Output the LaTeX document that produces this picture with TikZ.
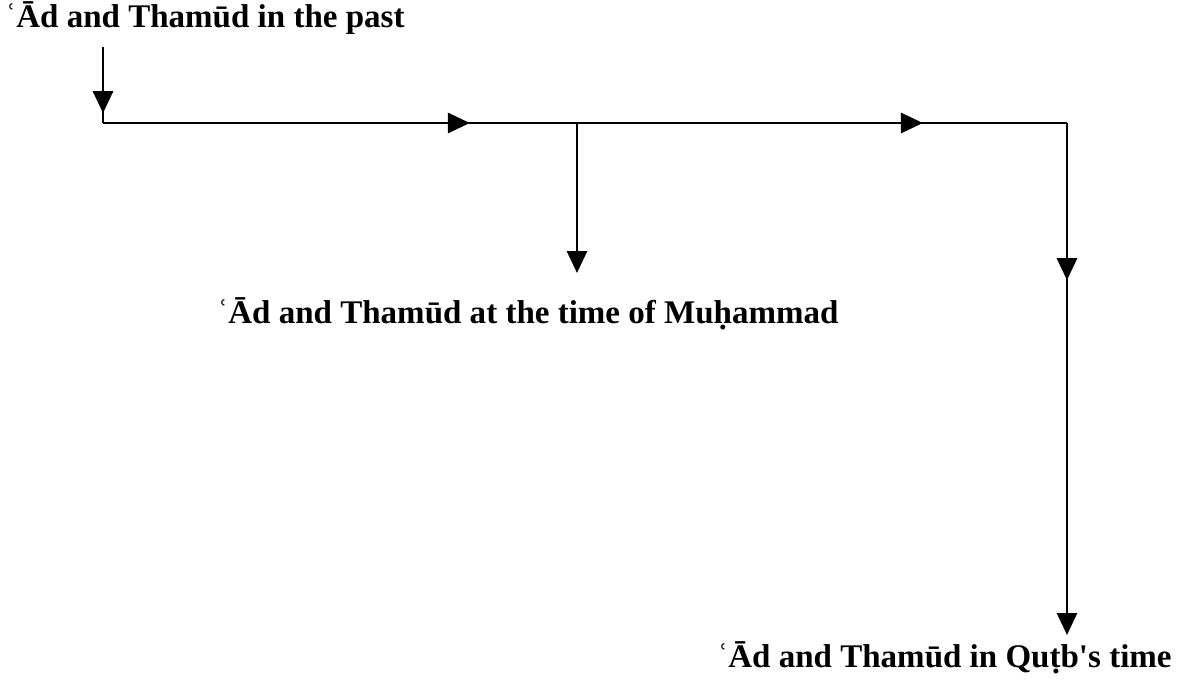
\documentclass[tikz,border=0pt]{standalone}
\usepackage{fontspec}
\setmainfont{Liberation Serif}
\usetikzlibrary{arrows.meta, decorations.markings}
\tikzset{
    phase/.style={inner sep=0pt, anchor=base west, font=\bfseries\fontsize{18.8}{22}\selectfont},
    flow/.style={line width=1.7pt, draw=black},
    endtip/.style={-{Triangle[width=0.4cm, length=0.44cm]}},
    midtip/.style={postaction={decorate}, decoration={markings, mark=at position #1 with {\arrow{Triangle[width=0.4cm, length=0.44cm]}}}}
}

\begin{document}
\begin{tikzpicture}[x=0.02cm, y=-0.02cm]
    \useasboundingbox (0,0) rectangle (1178,692);
    \node[phase] (past) at (5,28) {ʿĀd and Thamūd in the past};
    \node[phase] (muh) at (217,324) {ʿĀd and Thamūd at the time of Muḥammad};
    \node[phase] (qutb) at (717,668) {ʿĀd and Thamūd in Quṭb\textquotesingle s time};

    \coordinate (top) at (103,47);
    \coordinate (c1) at (103,123);
    \coordinate (jn) at (577,123);
    \coordinate (c2) at (1067,123);
    \coordinate (muhtip) at (577,273);
    \coordinate (qutbtip) at (1067,635);

    \draw[flow, midtip=0.87] (top) -- (c1);
    \draw[flow, midtip=0.774] (c1) -- (jn);
    \draw[flow, midtip=0.706] (jn) -- (c2);
    \draw[flow, endtip] (jn) -- (muhtip);
    \draw[flow, endtip, midtip=0.307] (c2) -- (qutbtip);
\end{tikzpicture}
\end{document}
